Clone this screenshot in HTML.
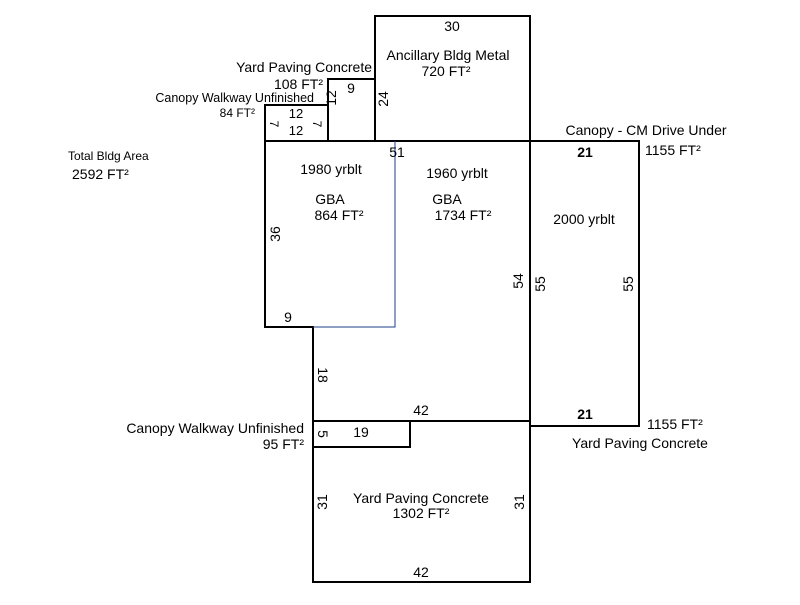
<!DOCTYPE html>
<html><head><style>
body{margin:0;background:#fff;width:800px;height:600px;overflow:hidden}
text{font-family:"Liberation Sans",Arial,sans-serif;font-size:14px;fill:#000}
</style></head><body>
<svg width="800" height="600" xmlns="http://www.w3.org/2000/svg">
<g fill="none" stroke="#000" stroke-width="2">
<rect x="375" y="16" width="155" height="125"/>
<rect x="328" y="79" width="47" height="62"/>
<rect x="265" y="105" width="63" height="36"/>
<rect x="530" y="141" width="109" height="285"/>
<polyline points="265,141 265,327 313,327 313,582 530,582 530,141 265,141"/>
<line x1="313" y1="421" x2="530" y2="421"/>
<polyline points="313,447 410,447 410,421"/>
</g>
<polyline points="313,327 395,327 395,141" fill="none" stroke="#1f3f8a" stroke-width="1"/>
<text x="452" y="31" text-anchor="middle">30</text>
<text x="448" y="60" text-anchor="middle">Ancillary Bldg Metal</text>
<text x="446" y="76" text-anchor="middle">720 FT²</text>
<text x="372" y="72" text-anchor="end">Yard Paving Concrete</text>
<text x="323" y="89" text-anchor="end">108 FT²</text>
<text x="351" y="93" text-anchor="middle">9</text>
<text x="314" y="102" text-anchor="end" style="font-size:12.5px">Canopy Walkway Unfinished</text>
<text x="255" y="117" text-anchor="end" style="font-size:12px">84 FT²</text>
<text x="296" y="118" text-anchor="middle" style="font-size:13px">12</text>
<text x="296" y="135" text-anchor="middle" style="font-size:13px">12</text>
<text transform="translate(270,124) rotate(90)" text-anchor="middle" style="font-size:12px">7</text>
<text transform="translate(313,124) rotate(90)" text-anchor="middle" style="font-size:12px">7</text>
<text transform="translate(336,98) rotate(-90)" text-anchor="middle">12</text>
<text transform="translate(388,99) rotate(-90)" text-anchor="middle">24</text>
<text x="397" y="157" text-anchor="middle">51</text>
<text x="331" y="174" text-anchor="middle">1980 yrblt</text>
<text x="330" y="204" text-anchor="middle">GBA</text>
<text x="339" y="220" text-anchor="middle">864 FT²</text>
<text x="457" y="178" text-anchor="middle">1960 yrblt</text>
<text x="447" y="204" text-anchor="middle">GBA</text>
<text x="463" y="220" text-anchor="middle">1734 FT²</text>
<text transform="translate(280,234) rotate(-90)" text-anchor="middle">36</text>
<text x="288" y="322" text-anchor="middle">9</text>
<text transform="translate(318,375) rotate(90)" text-anchor="middle">18</text>
<text transform="translate(523,281) rotate(-90)" text-anchor="middle">54</text>
<text transform="translate(545,284) rotate(-90)" text-anchor="middle">55</text>
<text transform="translate(633,284) rotate(-90)" text-anchor="middle">55</text>
<text x="646" y="135" text-anchor="middle">Canopy - CM Drive Under</text>
<text x="585" y="157" text-anchor="middle" style="font-weight:bold">21</text>
<text x="645" y="155">1155 FT²</text>
<text x="584" y="224" text-anchor="middle">2000 yrblt</text>
<text x="585" y="419" text-anchor="middle" style="font-weight:bold">21</text>
<text x="647" y="429">1155 FT²</text>
<text x="640" y="448" text-anchor="middle">Yard Paving Concrete</text>
<text x="68" y="160" style="font-size:12px">Total Bldg Area</text>
<text x="72" y="179">2592 FT²</text>
<text x="421" y="415" text-anchor="middle">42</text>
<text x="304" y="433" text-anchor="end">Canopy Walkway Unfinished</text>
<text x="304" y="449" text-anchor="end">95 FT²</text>
<text transform="translate(318,434) rotate(90)" text-anchor="middle">5</text>
<text x="361" y="437" text-anchor="middle">19</text>
<text x="421" y="503" text-anchor="middle">Yard Paving Concrete</text>
<text x="421" y="518" text-anchor="middle">1302 FT²</text>
<text transform="translate(327,502) rotate(-90)" text-anchor="middle">31</text>
<text transform="translate(524,502) rotate(-90)" text-anchor="middle">31</text>
<text x="421" y="577" text-anchor="middle">42</text>
</svg>
</body></html>
